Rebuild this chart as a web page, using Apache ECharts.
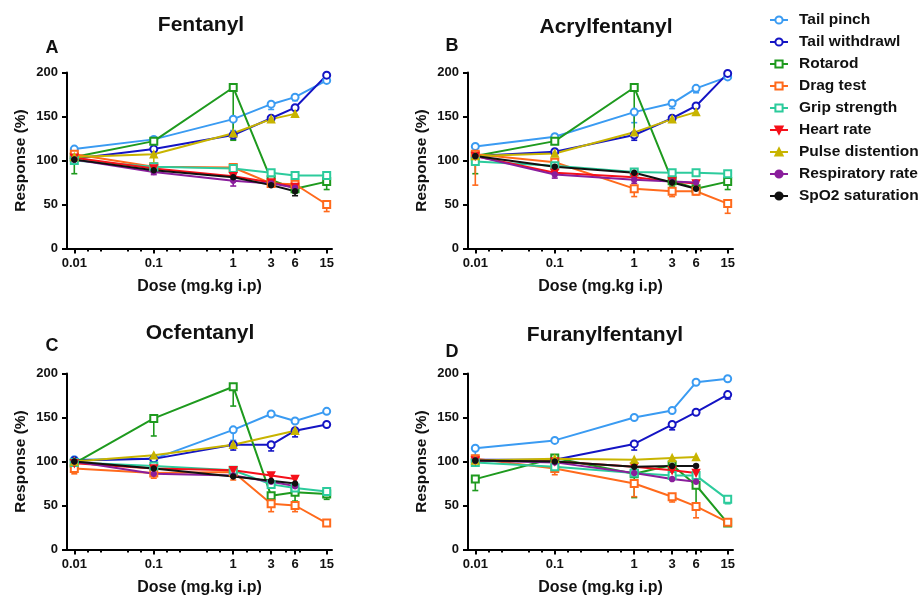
<!DOCTYPE html>
<html>
<head>
<meta charset="utf-8">
<script src="https://cdn.jsdelivr.net/npm/echarts@6/dist/echarts.min.js"></script>
<style>
html,body{margin:0;padding:0;background:#fff;}
#chart{width:922px;height:600px;}
</style>
</head>
<body>
<div id="chart"></div>
<script>
// ---------- data ----------
const doses = [0.01, 0.1, 1, 3, 6, 15];
const tickDoses = [0.01, 0.1, 1, 3, 6, 15];
const tickLabels = ["0.01", "0.1", "1", "3", "6", "15"];
const minorTickDoses = [0.0147, 0.0215, 0.0464, 0.0681, 0.147, 0.215, 0.464, 0.681, 1.47, 2.15, 4.64, 6.81];
const yTicks = [0, 50, 100, 150, 200];

const measures = ["Tail pinch", "Tail withdrawl", "Rotarod", "Drag test", "Grip strength",
  "Heart rate", "Pulse distention", "Respiratory rate", "SpO2 saturation"];
const panelTitles = ["Fentanyl", "Acrylfentanyl", "Ocfentanyl", "Furanylfentanyl"];
const panelLetters = ["A", "B", "C", "D"];

// Panel A – Fentanyl
const tailPinchA = [113, 124, 147, 164, 172, 191];
const tailWithdrawlA = [102, 113, 129, 148, 160, 197];
const rotarodA = [104, 122, 183, 78, 68, 76];
const dragA = [107, 93, 92, 74, 73, 50];
const gripA = [100, 93, 91, 86, 83, 83];
const heartA = [103, 91, 82, 75, 70];
const pulseA = [104, 107, 131, 147, 153];
const respA = [101, 87, 77, 74, 69];
const spo2A = [101, 89, 81, 72, 65];

// Panel B – Acrylfentanyl
const tailPinchB = [116, 127, 155, 165, 182, 195];
const tailWithdrawlB = [105, 110, 129, 148, 162, 199];
const rotarodB = [105, 122, 183, 77, 68, 76];
const dragB = [107, 98, 68, 65, 65, 51];
const gripB = [99, 94, 87, 86, 86, 85];
const heartB = [105, 86, 81, 76, 74];
const pulseB = [105, 108, 132, 147, 155];
const respB = [105, 84, 78, 76, 75];
const spo2B = [105, 93, 86, 75, 68];

// Panel C – Ocfentanyl
const tailPinchC = [102, 103, 136, 154, 146, 157];
const tailWithdrawlC = [101, 103, 119, 119, 135, 142];
const rotarodC = [98, 149, 185, 61, 65, 63];
const dragC = [92, 87, 88, 52, 50, 30];
const gripC = [99, 95, 90, 74, 70, 66];
const heartC = [98, 92, 90, 84, 80];
const pulseC = [100, 107, 119, null, 135];
const respC = [100, 86, 84, 77, 72];
const spo2C = [100, 92, 83, 78, 75];

// Panel D – Furanylfentanyl
const tailPinchD = [115, 124, 150, 158, 190, 194];
const tailWithdrawlD = [102, 102, 120, 142, 156, 176];
const rotarodD = [80, 104, 86, 96, 73, 30];
const dragD = [103, 92, 75, 60, 49, 31];
const gripD = [99, 94, 87, 84, 84, 57];
const heartD = [101, 100, 94, 90, 87];
const pulseD = [101, 103, 102, 104, 105];
const respD = [101, 99, 87, 80, 77];
const spo2D = [101, 100, 94, 95, 95];

// error bars (signed, in % units; negative = drawn below the point)
const errTailPinchA = [0, 0, -13, -6, -4, 0];
const errTailWithdrawlA = [0, -6, -5, 0, 0, 0];
const errRotarodA = [-19, 0, -60, -5, -5, -9];
const errDragA = [0, -5, -4, -4, -4, -8];
const errPulseA = [0, -10, 0, 0, 0];
const errRespA = [0, -3, -6, 0, 0];
const errSpo2A = [0, 0, 0, 0, -5];

const errTailPinchB = [0, -8, -12, -6, -5, 0];
const errTailWithdrawlB = [0, -5, -6, 0, 0, 0];
const errRotarodB = [-20, 0, -53, -6, 0, -9];
const errDragB = [-35, -8, -9, -6, -4, -11];
const errRespB = [0, -4, -4, 0, 0];

const errTailPinchC = [0, 0, -12, 0, 0, 0];
const errTailWithdrawlC = [0, 0, -6, -7, -7, 0];
const errRotarodC = [-8, -20, -22, -5, -10, -6];
const errDragC = [-6, -6, -9, -9, -7, -3];

const errTailPinchD = [-8, 0, 0, 0, 0, 0];
const errTailWithdrawlD = [0, 0, -7, -6, 0, -5];
const errRotarodD = [-13, 0, -27, 0, -22, 0];
const errDragD = [-5, -7, -15, -6, -13, 0];
const errGripD = [0, 0, 0, -5, 0, -5];

const panels = [
  [tailPinchA, tailWithdrawlA, rotarodA, dragA, gripA, heartA, pulseA, respA, spo2A],
  [tailPinchB, tailWithdrawlB, rotarodB, dragB, gripB, heartB, pulseB, respB, spo2B],
  [tailPinchC, tailWithdrawlC, rotarodC, dragC, gripC, heartC, pulseC, respC, spo2C],
  [tailPinchD, tailWithdrawlD, rotarodD, dragD, gripD, heartD, pulseD, respD, spo2D]
];
const panelErrors = [
  [errTailPinchA, errTailWithdrawlA, errRotarodA, errDragA, null, null, errPulseA, errRespA, errSpo2A],
  [errTailPinchB, errTailWithdrawlB, errRotarodB, errDragB, null, null, null, errRespB, null],
  [errTailPinchC, errTailWithdrawlC, errRotarodC, errDragC, null, null, null, null, null],
  [errTailPinchD, errTailWithdrawlD, errRotarodD, errDragD, errGripD, null, null, null, null]
];

// ---------- styling ----------
const colors = ["#3A9BF2", "#1414C4", "#1E9A1E", "#FF6A1C", "#2CCB9C", "#F5101A", "#C8B400", "#8A1E9C", "#111111"];
const symbols = ["emptyCircle", "emptyCircle", "emptyRect", "emptyRect", "emptyRect", "triangle", "triangle", "circle", "circle"];
const symbolSizes = [7, 7, 7, 7, 7, 7, 7, 5, 5];
const symbolRotates = [0, 0, 0, 0, 0, 180, 0, 0, 0];
const FONT = "Liberation Sans, Arial, sans-serif";
const TXT = "#111";

const grids = [
  {left: 67, top: 72.5, width: 265, height: 176},
  {left: 468, top: 72.5, width: 265, height: 176},
  {left: 67, top: 373.5, width: 265, height: 176},
  {left: 468, top: 373.5, width: 265, height: 176}
];
const titlePos = [[201, 25], [606, 27], [200, 333], [605, 335]];
const letterPos = [[52, 48], [452, 46], [52, 346], [452, 352]];

const lg = v => Math.log10(v);
const xMin = -2.092, xMax = 1.243;
const tickVals = tickDoses.map(lg);

const xAxes = [], yAxes = [], series = [];
grids.forEach((g, p) => {
  xAxes.push({
    type: 'value', gridIndex: p, min: xMin, max: xMax,
    name: 'Dose (mg.kg i.p)', nameLocation: 'middle', nameGap: 30,
    nameTextStyle: {fontFamily: FONT, fontWeight: 'bold', fontSize: 16, color: TXT},
    axisLine: {show: true, onZero: false, lineStyle: {color: '#000', width: 2}},
    axisTick: {show: true, length: 5, lineStyle: {width: 2, color: '#000'}, customValues: tickVals},
    axisLabel: {
      show: true, margin: 8, fontFamily: FONT, fontWeight: 'bold', fontSize: 13, color: TXT,
      customValues: tickVals,
      formatter: v => {
        let best = 0, d = 1e9;
        tickVals.forEach((t, i) => { if (Math.abs(t - v) < d) { d = Math.abs(t - v); best = i; } });
        return tickLabels[best];
      }
    },
    splitLine: {show: false}
  });
  xAxes.push({
    type: 'value', gridIndex: p, min: xMin, max: xMax, position: 'bottom',
    axisLine: {show: false, onZero: false},
    axisTick: {show: true, length: 3, lineStyle: {width: 2, color: '#000'}, customValues: minorTickDoses.map(lg)},
    axisLabel: {show: false, customValues: minorTickDoses.map(lg)},
    splitLine: {show: false}
  });
  yAxes.push({
    type: 'value', gridIndex: p, min: 0, max: 200, interval: 50, position: 'left',
    name: 'Response (%)', nameLocation: 'middle', nameGap: 38,
    nameTextStyle: {fontFamily: FONT, fontWeight: 'bold', fontSize: 15.5, color: TXT},
    axisLine: {show: true, onZero: false, lineStyle: {color: '#000', width: 2}},
    axisTick: {show: true, length: 5, lineStyle: {width: 2, color: '#000'}},
    axisLabel: {margin: 9, fontFamily: FONT, fontWeight: 'bold', fontSize: 13, color: TXT},
    splitLine: {show: false}
  });

  panels[p].forEach((vals, m) => {
    const errs = panelErrors[p][m];
    if (errs) {
      series.push({
        type: 'custom', xAxisIndex: 2 * p, yAxisIndex: p, silent: true, z: 2,
        data: vals.map((v, i) => [lg(doses[i]), v, errs[i]]).filter(d => d[1] != null && d[2]),
        renderItem: (params, api) => {
          const x = api.value(0), v = api.value(1), e = api.value(2);
          const a = api.coord([x, v]), b = api.coord([x, v + e]);
          const st = {stroke: colors[m], lineWidth: 1.6};
          return {type: 'group', children: [
            {type: 'line', shape: {x1: a[0], y1: a[1], x2: b[0], y2: b[1]}, style: st},
            {type: 'line', shape: {x1: b[0] - 3, y1: b[1], x2: b[0] + 3, y2: b[1]}, style: st}
          ]};
        }
      });
    }
    series.push({
      type: 'line', name: measures[m], xAxisIndex: 2 * p, yAxisIndex: p, z: 3,
      data: vals.map((v, i) => [lg(doses[i]), v]),
      connectNulls: true,
      symbol: symbols[m], symbolSize: symbolSizes[m], symbolRotate: symbolRotates[m],
      showAllSymbol: true,
      lineStyle: {color: colors[m], width: 2},
      itemStyle: {color: colors[m], borderColor: colors[m], borderWidth: 1.5}
    });
  });
});

const graphics = [];
panelTitles.forEach((t, p) => {
  graphics.push({type: 'text', x: titlePos[p][0], y: titlePos[p][1],
    style: {text: t, font: 'bold 21px ' + FONT, fill: TXT, textAlign: 'center', textVerticalAlign: 'middle'}});
  graphics.push({type: 'text', x: letterPos[p][0], y: letterPos[p][1],
    style: {text: panelLetters[p], font: 'bold 18px ' + FONT, fill: TXT, textAlign: 'center', textVerticalAlign: 'middle'}});
});

const chart = echarts.init(document.getElementById('chart'), null, {renderer: 'canvas'});
chart.setOption({
  animation: false,
  backgroundColor: '#fff',
  grid: grids,
  xAxis: xAxes,
  yAxis: yAxes,
  legend: {
    orient: 'vertical', left: 769, top: 12, padding: 0,
    data: measures,
    itemWidth: 18, itemHeight: 9, itemGap: 6,
    textStyle: {fontFamily: FONT, fontWeight: 'bold', fontSize: 15.5, color: TXT, lineHeight: 16, padding: [0, 0, 0, 6]}
  },
  graphic: graphics,
  series: series
});
</script>
</body>
</html>
